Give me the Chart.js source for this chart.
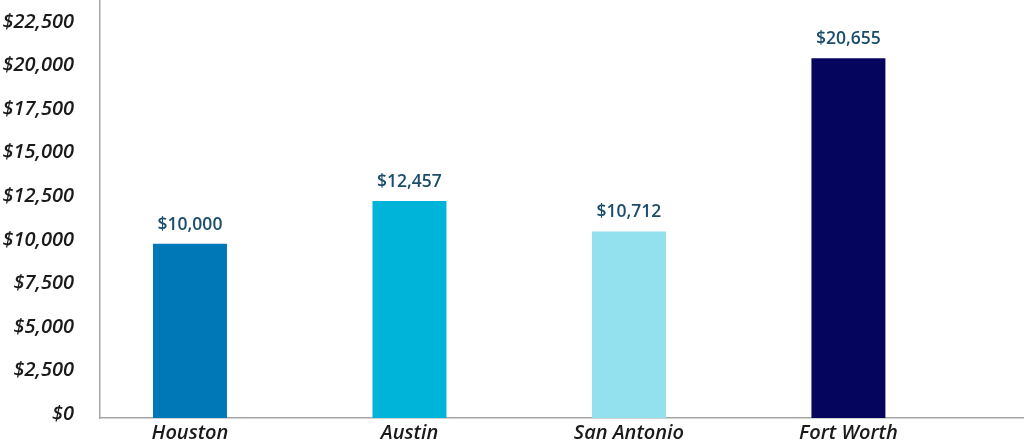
<!DOCTYPE html>
<html>
<head>
<meta charset="utf-8">
<script src="https://cdn.jsdelivr.net/npm/chart.js@4/dist/chart.umd.min.js"></script>
<style>
  html, body { margin: 0; padding: 0; background: #fff; }
  #wrap { width: 1024px; height: 448px; position: relative; }
</style>
</head>
<body>
<div id="wrap"><canvas id="myChart"></canvas></div>
<script>
const cities = ['Houston', 'Austin', 'San Antonio', 'Fort Worth'];
const costs = [10000, 12457, 10712, 20655];
const barColors = ['#0077b6', '#00b3d8', '#93e0ee', '#05055e'];
const yTicks = [0, 2500, 5000, 7500, 10000, 12500, 15000, 17500, 20000, 22500];

const money = v => '$' + v.toLocaleString('en-US');

// labels above bars
const valueLabels = {
  id: 'valueLabels',
  afterDatasetsDraw(chart) {
    const ctx = chart.ctx;
    const meta = chart.getDatasetMeta(0);
    ctx.save();
    ctx.font = '600 17.5px "Open Sans", sans-serif';
    ctx.fillStyle = '#1b4d6b';
    ctx.textAlign = 'center';
    ctx.textBaseline = 'middle';
    meta.data.forEach((bar, i) => {
      ctx.fillText(money(costs[i]), bar.x, bar.y - 19);
    });
    ctx.restore();
  }
};

const dataSource = {
  datasets: [{
    data: cities.map((c, i) => ({ x: i, y: costs[i] })),
    backgroundColor: barColors,
    borderWidth: 0,
    barPercentage: 0.337,
    categoryPercentage: 1
  }]
};

const axisFont = { family: '"Open Sans", sans-serif', size: 20, weight: '600', style: 'italic' };

const config = {
  type: 'bar',
  data: dataSource,
  options: {
    responsive: true,
    maintainAspectRatio: false,
    animation: false,
    layout: { padding: 0 },
    plugins: {
      legend: { display: false },
      tooltip: { enabled: false }
    },
    scales: {
      x: {
        type: 'linear',
        offset: false,
        min: -0.41,
        max: 3.8,
        grid: { display: false, drawTicks: false },
        border: { display: true, color: '#a6a6a6', width: 1.5 },
        afterFit(scale) {
          scale.height = 30;
          scale.paddingLeft = 0;
          scale.paddingRight = 0;
        },
        afterBuildTicks(scale) {
          scale.ticks = cities.map((c, i) => ({ value: i }));
        },
        ticks: {
          autoSkip: false,
          maxRotation: 0,
          padding: 3,
          color: '#1a1a1a',
          font: axisFont,
          callback: v => cities[v]
        }
      },
      y: {
        min: 0,
        max: 24000,
        grid: { display: false, drawTicks: false },
        border: { display: true, color: '#a6a6a6', width: 1.5 },
        afterFit(scale) {
          scale.width = 100;
          scale.paddingTop = 0;
          scale.paddingBottom = 0;
        },
        afterBuildTicks(scale) {
          scale.ticks = yTicks.map(v => ({ value: v }));
        },
        ticks: {
          padding: 26,
          labelOffset: -4,
          color: '#1a1a1a',
          font: axisFont,
          callback: v => money(v)
        }
      }
    }
  },
  plugins: [valueLabels]
};

const myChart = new Chart(document.getElementById('myChart'), config);
</script>
</body>
</html>
